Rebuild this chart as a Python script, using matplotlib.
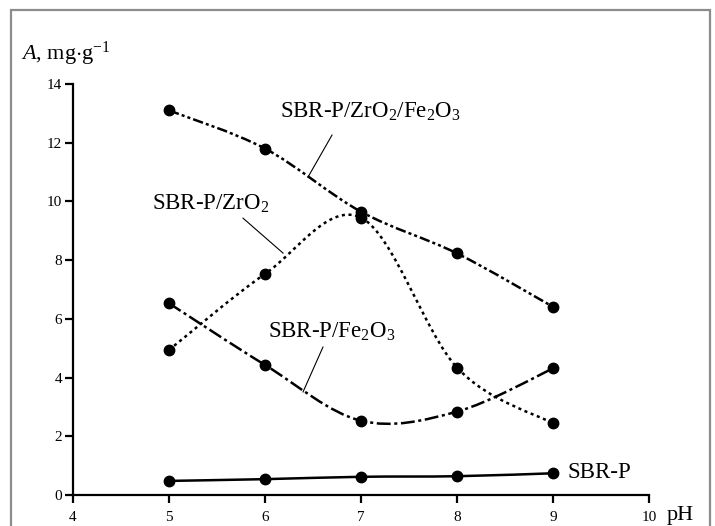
import numpy as np
import matplotlib
matplotlib.use("Agg")
import matplotlib.pyplot as plt
from matplotlib.path import Path
from matplotlib.patches import PathPatch, Rectangle

plt.rcParams["font.family"] = ["Liberation Serif", "DejaVu Serif"]
plt.rcParams["mathtext.fontset"] = "custom"
plt.rcParams["mathtext.rm"] = "Liberation Serif"
plt.rcParams["mathtext.it"] = "Liberation Serif:italic"
plt.rcParams["lines.scale_dashes"] = False

ph = [5, 6, 7, 8, 9]
sbr_p = [0.48, 0.54, 0.62, 0.64, 0.74]
sbr_zr_fe = [13.1, 11.8, 9.65, 8.23, 6.41]
sbr_zr = [4.94, 7.53, 9.45, 4.34, 2.44]
sbr_fe = [6.53, 4.43, 2.53, 2.84, 4.31]

x_ticks = [4, 5, 6, 7, 8, 9, 10]
y_ticks = [0, 2, 4, 6, 8, 10, 12, 14]


def smooth_path(x, y):
    # excel-like smoothed line: cubic bezier segments through each point
    p = np.column_stack([x, y]).astype(float)
    verts = [p[0]]
    codes = [Path.MOVETO]
    n = len(p)
    for i in range(n - 1):
        p0 = p[max(i - 1, 0)]
        p1 = p[i]
        p2 = p[i + 1]
        p3 = p[min(i + 2, n - 1)]
        verts += [p1 + (p2 - p0) / 6, p2 - (p3 - p1) / 6, p2]
        codes += [Path.CURVE4] * 3
    return Path(verts, codes)


fig = plt.figure(figsize=(7.15, 5.26), dpi=100)
ax = fig.add_axes([73 / 715, 1 - 495 / 526, 576 / 715, 411 / 526])

fig.patches.append(Rectangle((11 / 715, -0.05), 699 / 715, 1.05 - 10 / 526,
                             transform=fig.transFigure, fill=False,
                             ec="#8c8c8c", lw=1.6, zorder=0))

series = [
    (sbr_p, "-"),
    (sbr_zr_fe, (0, (7.5, 2.2, 2.2, 2.2, 2.2, 2.2))),
    (sbr_zr, (0, (2.2, 2.6))),
    (sbr_fe, (0, (10, 2.6, 2.2, 2.6))),
]
for vals, ls in series:
    ax.add_patch(PathPatch(smooth_path(ph, vals), fill=False, ec="black",
                           lw=1.8, ls=ls, zorder=3))
    ax.plot(ph, vals, "o", color="black", ms=7.5, zorder=4)

ax.set_xlim(4, 10)
ax.set_ylim(0, 14)
ax.set_xticks(x_ticks)
ax.set_yticks(y_ticks)
ax.set_xticklabels(["4", "5", "6", "7", "8", "9", "10"])
for s in ["top", "right"]:
    ax.spines[s].set_visible(False)
for s in ["left", "bottom"]:
    ax.spines[s].set_linewidth(1.6)
ax.tick_params(axis="both", direction="out", length=5.5, width=1.6,
               labelsize=11, colors="black")
ax.tick_params(axis="y", pad=2.5)
ax.tick_params(axis="x", pad=6)
ax.set_clip_on(False)

fs = 16.5
ax.text(6.156, 12.84, r"SBR-P/ZrO$_2$/Fe$_2$O$_3$", fontsize=fs,
        ha="left", va="baseline")
ax.text(4.823, 9.71, r"SBR-P/ZrO$_2$", fontsize=fs, ha="left", va="baseline")
ax.text(6.031, 5.35, r"SBR-P/Fe$_2$O$_3$", fontsize=fs, ha="left", va="baseline")
ax.text(9.146, 0.58, "SBR-P", fontsize=fs, ha="left", va="baseline")

# leader lines
ax.plot([6.698, 6.448], [12.26, 10.83], color="black", lw=0.8)
ax.plot([5.771, 6.188], [9.43, 8.24], color="black", lw=0.8)
ax.plot([6.604, 6.396], [5.04, 3.51], color="black", lw=0.8)

fig.text(21 / 715, 1 - 60 / 526, r"$A$, mg$\cdot$g$^{-1}$", fontsize=16,
         ha="left", va="baseline")
fig.text(667 / 715, 1 - 520 / 526, "pH", fontsize=16, ha="left", va="baseline")

fig.savefig("out.png", dpi=100)
